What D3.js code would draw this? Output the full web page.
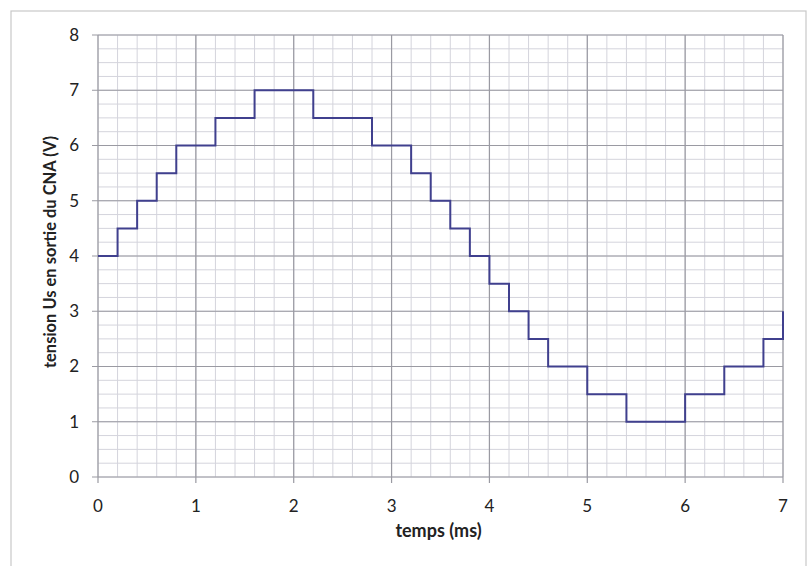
<!DOCTYPE html>
<html>
<head>
<meta charset="utf-8">
<script src="https://cdn.jsdelivr.net/npm/d3@7"></script>
<style>
  body { margin: 0; background: #fff; }
  text { font-family: Lato, "Open Sans", sans-serif; fill: #222; }
</style>
</head>
<body>
<div id="chart"></div>
<script>
// step times (ms) and DAC output (V)
var times  = [0, 0.2, 0.4, 0.6, 0.8, 1.2, 1.6, 2.2, 2.8, 3.2, 3.4, 3.6, 3.8, 4.0, 4.2, 4.4, 4.6, 5.0, 5.4, 6.0, 6.4, 6.8, 7.0];
var volts  = [4, 4.5, 5, 5.5, 6, 6.5, 7, 6.5, 6, 5.5, 5, 4.5, 4, 3.5, 3, 2.5, 2, 1.5, 1, 1.5, 2, 2.5, 3];
var xTicks = [0, 1, 2, 3, 4, 5, 6, 7];
var yTicks = [0, 1, 2, 3, 4, 5, 6, 7, 8];

var W = 810, H = 566;
var margin = {top: 35, right: 27, bottom: 89, left: 98},
    width = W - margin.left - margin.right,
    height = H - margin.top - margin.bottom;

var svg = d3.select("#chart").append("svg")
    .attr("width", W)
    .attr("height", H);

// outer chart border
svg.append("rect")
    .attr("x", 11).attr("y", 11)
    .attr("width", 795).attr("height", 600)
    .attr("fill", "none")
    .attr("stroke", "#c8c8c8")
    .attr("stroke-width", 1.2);

var g = svg.append("g")
    .attr("transform", "translate(" + margin.left + "," + margin.top + ")");

var x = d3.scaleLinear().domain([0, 7]).range([0, width]);
var y = d3.scaleLinear().domain([0, 8]).range([height, 0]);

// minor grid
var minorX = d3.range(0, 7.001, 0.2), minorY = d3.range(0, 8.001, 0.25);
g.append("g").selectAll("line").data(minorX).enter().append("line")
    .attr("x1", d => x(d)).attr("x2", d => x(d))
    .attr("y1", 0).attr("y2", height)
    .attr("stroke", "#d4d4dc").attr("stroke-width", 1);
g.append("g").selectAll("line").data(minorY).enter().append("line")
    .attr("x1", 0).attr("x2", width)
    .attr("y1", d => y(d)).attr("y2", d => y(d))
    .attr("stroke", "#d4d4dc").attr("stroke-width", 1);

// major grid
g.append("g").selectAll("line").data(xTicks).enter().append("line")
    .attr("x1", d => x(d)).attr("x2", d => x(d))
    .attr("y1", 0).attr("y2", height + 6)
    .attr("stroke", "#9a9aa2").attr("stroke-width", 1.2);
g.append("g").selectAll("line").data(yTicks).enter().append("line")
    .attr("x1", -6).attr("x2", width)
    .attr("y1", d => y(d)).attr("y2", d => y(d))
    .attr("stroke", "#9a9aa2").attr("stroke-width", 1.2);

// tick labels
g.append("g").selectAll("text").data(yTicks).enter().append("text")
    .attr("x", -19).attr("y", d => y(d))
    .attr("dy", "0.35em")
    .attr("text-anchor", "end")
    .style("font-size", "17px")
    .text(d => d);
g.append("g").selectAll("text").data(xTicks).enter().append("text")
    .attr("x", d => x(d)).attr("y", height + 35)
    .attr("text-anchor", "middle")
    .style("font-size", "17px")
    .text(d => d);

// axis titles
g.append("text")
    .attr("x", width / 2 - 2).attr("y", height + 60)
    .attr("text-anchor", "middle")
    .style("font-size", "18px").style("font-weight", "bold")
    .text("temps (ms)");
g.append("text")
    .attr("transform", "translate(-42," + (height / 2 - 4) + ") rotate(-90)")
    .attr("text-anchor", "middle")
    .style("font-size", "16.5px").style("font-weight", "bold")
    .text("tension Us en sortie du CNA (V)");

// step signal
var pts = times.map((t, i) => [t, volts[i]]);
var line = d3.line()
    .x(d => x(d[0]))
    .y(d => y(d[1]))
    .curve(d3.curveStepAfter);
g.append("path")
    .datum(pts)
    .attr("d", line)
    .attr("fill", "none")
    .attr("stroke", "#40408e")
    .attr("stroke-width", 2);
</script>
</body>
</html>
